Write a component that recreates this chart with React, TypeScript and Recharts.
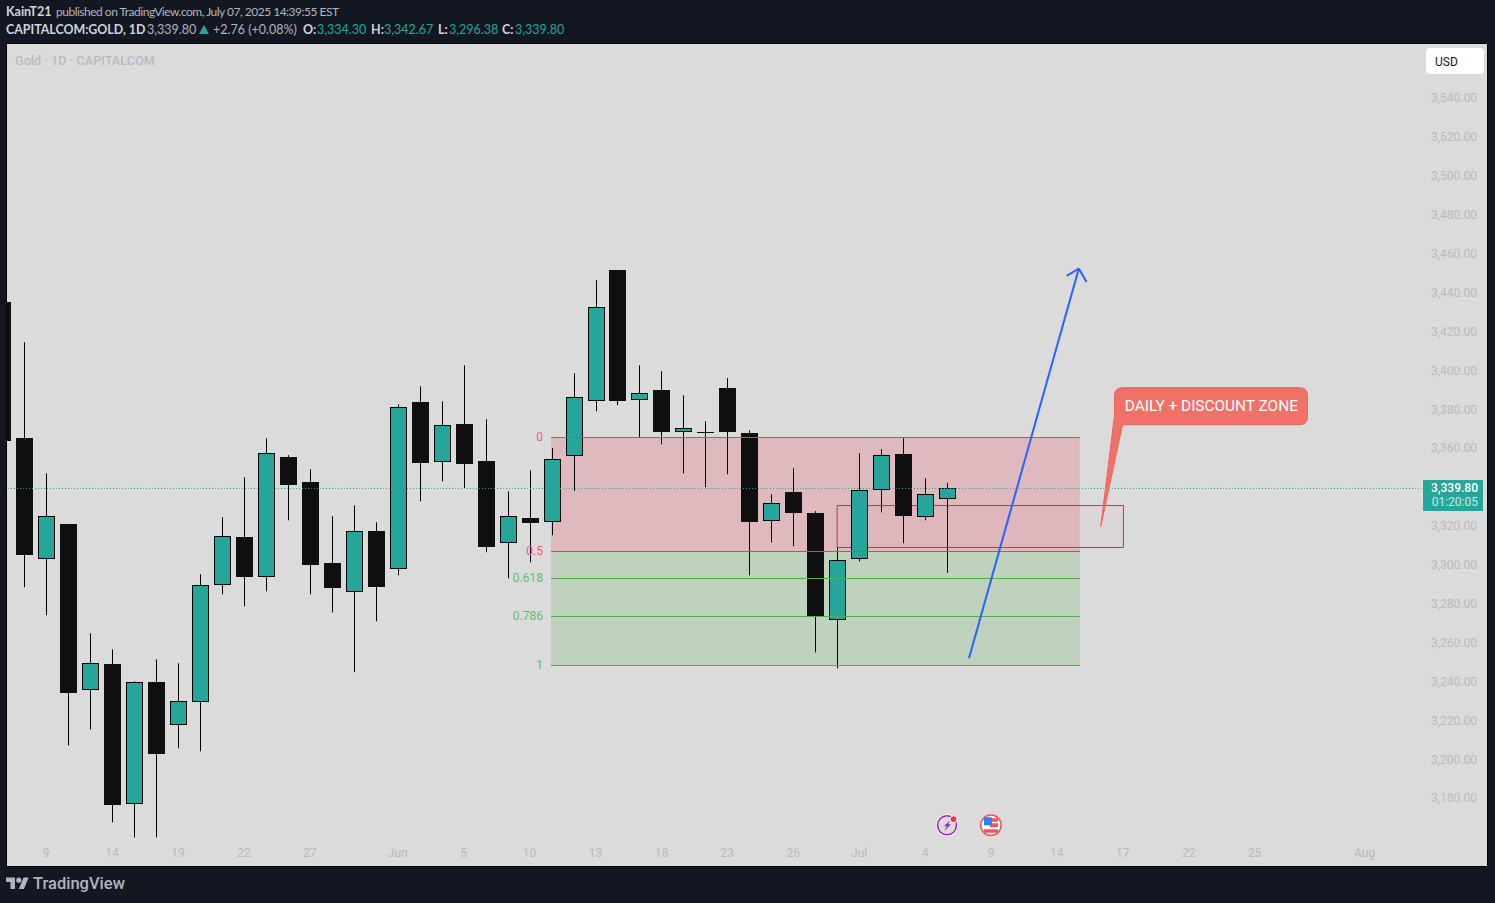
import {
  Bar,
  ComposedChart,
  ReferenceArea,
  ReferenceDot,
  ReferenceLine,
  XAxis,
  YAxis,
} from 'recharts';

const opens = [3435.5, 3365.6, 3303.5, 3321.4, 3236.2, 3249.4, 3177.5, 3240.1, 3218.2, 3230.0, 3289.9, 3314.7, 3294.3, 3355.8, 3343.0, 3301.3, 3286.6, 3317.8, 3298.4, 3384.1, 3353.4, 3372.8, 3353.8, 3311.8, 3324.5, 3322.6, 3356.5, 3384.8, 3452.0, 3385.3, 3390.3, 3368.8, 3368.7, 3391.3, 3368.2, 3323.1, 3337.8, 3327.0, 3272.2, 3303.5, 3339.0, 3357.4, 3325.1, 3334.3];
const highs = [3435.5, 3415.0, 3347.6, 3321.4, 3265.3, 3257.1, 3240.6, 3251.9, 3249.9, 3295.7, 3325.0, 3345.5, 3365.6, 3356.9, 3349.7, 3325.5, 3331.1, 3322.4, 3383.1, 3392.3, 3384.6, 3403.1, 3375.4, 3338.3, 3349.1, 3360.5, 3399.0, 3446.9, 3452.0, 3403.1, 3400.1, 3387.7, 3374.3, 3396.5, 3369.7, 3336.8, 3350.2, 3328.1, 3309.5, 3357.9, 3360.0, 3365.6, 3345.0, 3342.67];
const lows = [3364.1, 3289.0, 3274.6, 3207.7, 3215.9, 3168.1, 3160.0, 3160.0, 3206.2, 3204.6, 3285.4, 3279.2, 3286.9, 3323.4, 3285.4, 3276.1, 3245.3, 3271.5, 3295.1, 3333.2, 3343.5, 3339.9, 3307.0, 3293.6, 3301.8, 3315.7, 3338.5, 3379.5, 3382.6, 3366.1, 3362.5, 3347.6, 3340.4, 3347.1, 3295.1, 3312.1, 3310.1, 3255.5, 3247.3, 3302.3, 3327.5, 3311.6, 3323.4, 3296.38];
const closes = [3364.1, 3305.4, 3325.5, 3234.6, 3249.7, 3176.9, 3240.0, 3203.2, 3230.2, 3289.9, 3315.0, 3294.3, 3357.7, 3341.4, 3300.3, 3288.5, 3317.6, 3289.1, 3381.5, 3352.9, 3372.1, 3352.2, 3309.7, 3325.3, 3321.9, 3354.7, 3386.5, 3432.8, 3384.6, 3388.6, 3368.7, 3370.6, 3368.2, 3368.7, 3322.4, 3332.0, 3327.0, 3273.5, 3302.7, 3338.7, 3356.7, 3325.5, 3336.6, 3339.8];

const priceTicks = [3180, 3200, 3220, 3240, 3260, 3280, 3300, 3320, 3340, 3360, 3380, 3400, 3420, 3440, 3460, 3480, 3500, 3520, 3540];
const shownPriceTicks = priceTicks.filter((t) => t !== 3340);
const timePositions = [2, 5, 8, 11, 14, 18, 21, 24, 27, 30, 33, 36, 39, 42, 45, 48, 51, 54, 57, 62];
const timeLabels = ['9', '14', '19', '22', '27', 'Jun', '5', '10', '13', '18', '23', '26', 'Jul', '4', '9', '14', '17', '22', '25', 'Aug'];

const fibLevels = [0, 0.5, 0.618, 0.786, 1];
const fibPrices = [3366.0, 3307.38, 3293.49, 3273.96, 3248.75];
const fibStart = 24.975;
const fibEnd = 49.05;

const data = opens.map((open, i) => ({
  idx: i,
  open,
  high: highs[i],
  low: lows[i],
  close: closes[i],
}));

const lastClose = closes[closes.length - 1];

const UI_FONT = 'Roboto, "Noto Sans", sans-serif';
const HEADER_FONT = 'Lato, Roboto, sans-serif';
const AXIS_TEXT = '#b8bac4';
const TEAL = '#26a69a';
const DARK = '#0f0f0f';
const BLUE = '#2962ff';
const FIB_RED = '#e04452';
const FIB_GREEN = '#4caf50';

function Candle(props: any) {
  const { x, y, width, height, payload } = props;
  const { open, high, low, close } = payload;
  const perUnit = height / (high - low);
  const toY = (p: number) => y + (high - p) * perUnit - 0.3;
  const cx = Math.round(x + width / 2 + 0.5) + 0.5;
  const up = close >= open;
  const top = Math.round(toY(Math.max(open, close)));
  const bottom = Math.round(toY(Math.min(open, close)));
  if (up) {
    return (
      <g>
        <line x1={cx} x2={cx} y1={y} y2={y + height} stroke="#000" strokeWidth={1} />
        <rect
          x={cx - 8}
          y={top + 0.5}
          width={16}
          height={Math.max(bottom - top - 1, 1)}
          fill={TEAL}
          stroke="#000"
          strokeWidth={1}
        />
      </g>
    );
  }
  return (
    <g>
      <line x1={cx} x2={cx} y1={y} y2={y + height} stroke="#000" strokeWidth={1} />
      <rect x={cx - 8.5} y={top} width={17} height={Math.max(bottom - top, 1)} fill={DARK} />
    </g>
  );
}

function FibLabel(props: any) {
  const { cx, cy, text, color } = props;
  return (
    <text x={cx - 8} y={cy + 3.5} textAnchor="end" fontSize={12} fontFamily={UI_FONT} fill={color}>
      {text}
    </text>
  );
}

function Callout(props: any) {
  const { cx, cy } = props;
  const left = cx + 13.7;
  const right = cx + 206.7;
  const top = cy - 138.7;
  const bottom = cy - 101.7;
  const r = 8;
  const d = [
    `M${cx} ${cy}`,
    `L${left} ${cy - 111}`,
    `L${left} ${top + r}`,
    `Q${left} ${top} ${left + r} ${top}`,
    `L${right - r} ${top}`,
    `Q${right} ${top} ${right} ${top + r}`,
    `L${right} ${bottom - r}`,
    `Q${right} ${bottom} ${right - r} ${bottom}`,
    `L${left + 8} ${bottom}`,
    'Z',
  ].join(' ');
  return (
    <g>
      <path d={d} fill="#ef7168" stroke="#f26355" strokeWidth={1} />
      <text x={cx + 24} y={cy - 115} fontSize={15.4} fontFamily={UI_FONT} fill="#fff">
        DAILY + DISCOUNT ZONE
      </text>
    </g>
  );
}

function PriceTag(props: any) {
  const { viewBox } = props;
  const left = viewBox.x + viewBox.width + 1;
  const y = Math.round(viewBox.y);
  return (
    <g fontFamily={UI_FONT} fontSize={12} textAnchor="end">
      <rect x={left} y={y - 8} width={60} height={31} fill={TEAL} />
      <text x={left + 55} y={y + 4} fill="#fff" fontWeight={500}>
        3,339.80
      </text>
      <text x={left + 55} y={y + 18} fill="#c8e9e5">
        01:20:05
      </text>
    </g>
  );
}

function BoltIcon(props: any) {
  const { cx, cy } = props;
  return (
    <g>
      <circle cx={cx} cy={cy} r={11} fill="#fff" />
      <circle cx={cx} cy={cy} r={9.5} fill="#dbdbdb" stroke="#9c27b0" strokeWidth={1.6} />
      <path
        d={`M${cx + 3} ${cy - 5} L${cx - 3} ${cy + 1} L${cx} ${cy + 1} L${cx - 3} ${cy + 6} L${cx + 4} ${cy - 1} L${cx + 1} ${cy - 1} Z`}
        fill="#9c27b0"
      />
      <circle cx={cx + 6.5} cy={cy - 6} r={3.5} fill="#f23645" stroke="#fff" strokeWidth={1} />
    </g>
  );
}

function FlagIcon(props: any) {
  const { cx, cy } = props;
  return (
    <g>
      <circle cx={cx} cy={cy} r={10.2} fill="#fff" stroke="#f0545f" strokeWidth={1.6} />
      <rect x={cx - 7} y={cy - 7} width={14} height={3.5} fill="#f0545f" />
      <rect x={cx - 1} y={cy - 2} width={8} height={4} fill="#f0545f" />
      <rect x={cx - 7} y={cy + 4} width={14} height={3.5} fill="#f0545f" />
      <rect x={cx - 7} y={cy - 8} width={8} height={8} fill="#2f80ed" />
    </g>
  );
}

function HeaderSpan({ left, top, color, weight, size, spacing, children }: any) {
  return (
    <span
      style={{
        position: 'absolute',
        left,
        top,
        color,
        fontFamily: HEADER_FONT,
        fontSize: size ?? 12.5,
        fontWeight: weight ?? 400,
        letterSpacing: spacing ?? 0,
        whiteSpace: 'nowrap',
        lineHeight: '16px',
      }}
    >
      {children}
    </span>
  );
}

export default function App() {
  return (
    <div
      style={{
        position: 'absolute',
        left: 0,
        top: 0,
        width: 1495,
        height: 903,
        background: '#131722',
        overflow: 'hidden',
        fontFamily: UI_FONT,
        fontSize: 12,
      }}
    >
      <HeaderSpan left={6} top={4} color="#d1d4dc" weight={700}>KainT21</HeaderSpan>
      <HeaderSpan left={56} top={4} color="#b2b5be" size={12} spacing={-0.5}>published on TradingView.com, July 07, 2025 14:39:55 EST</HeaderSpan>
      <HeaderSpan left={6} top={22} color="#d1d4dc" weight={700} size={12.4}>CAPITALCOM:GOLD, 1D</HeaderSpan>
      <HeaderSpan left={147} top={22} color="#b2b5be">3,339.80</HeaderSpan>
      <svg width={10} height={9} style={{ position: 'absolute', left: 199, top: 25 }}>
        <polygon points="5,0 10,9 0,9" fill={TEAL} />
      </svg>
      <HeaderSpan left={213} top={22} color="#b2b5be">+2.76 (+0.08%)</HeaderSpan>
      <HeaderSpan left={303} top={22} color="#d1d4dc" weight={700}>O:</HeaderSpan>
      <HeaderSpan left={317} top={22} color={TEAL}>3,334.30</HeaderSpan>
      <HeaderSpan left={371} top={22} color="#d1d4dc" weight={700}>H:</HeaderSpan>
      <HeaderSpan left={384} top={22} color={TEAL}>3,342.67</HeaderSpan>
      <HeaderSpan left={438} top={22} color="#d1d4dc" weight={700}>L:</HeaderSpan>
      <HeaderSpan left={449} top={22} color={TEAL}>3,296.38</HeaderSpan>
      <HeaderSpan left={502} top={22} color="#d1d4dc" weight={700}>C:</HeaderSpan>
      <HeaderSpan left={515} top={22} color={TEAL}>3,339.80</HeaderSpan>

      <div
        style={{
          position: 'absolute',
          left: 6,
          top: 43,
          width: 1482,
          height: 824,
          background: '#dbdbdb',
          border: '1px solid #000',
          boxSizing: 'border-box',
        }}
      />
      <ComposedChart
        width={1495}
        height={903}
        data={data}
        margin={{ top: 44, right: 7, bottom: 37, left: 7 }}
        style={{ position: 'absolute', left: 0, top: 0 }}
      >
        <XAxis
          dataKey="idx"
          type="number"
          domain={[0.214, 64.62]}
          allowDataOverflow
          ticks={timePositions}
          interval={0}
          tickFormatter={(v: number) => timeLabels[timePositions.indexOf(v)]}
          height={28}
          tickLine={false}
          tickSize={0}
          tickMargin={10}
          axisLine={{ stroke: '#dfdfdf' }}
          tick={{ fontSize: 12, fill: AXIS_TEXT, fontFamily: UI_FONT }}
        />
        <YAxis
          orientation="right"
          type="number"
          domain={[3160.05, 3568.35]}
          allowDataOverflow
          ticks={shownPriceTicks}
          interval={0}
          tickFormatter={(v: number) => v.toLocaleString('en-US', { minimumFractionDigits: 2 })}
          width={66}
          tickLine={false}
          tickSize={0}
          tickMargin={9}
          axisLine={{ stroke: '#dfdfdf' }}
          tick={{ fontSize: 12, fill: AXIS_TEXT, fontFamily: UI_FONT, dy: -1 }}
        />
        <ReferenceArea x1={fibStart} x2={fibEnd} y1={fibPrices[1]} y2={fibPrices[0]} fill="#deb9bd" fillOpacity={1} stroke="none" />
        <ReferenceArea x1={fibStart} x2={fibEnd} y1={fibPrices[4]} y2={fibPrices[1]} fill="#bfd2be" fillOpacity={1} stroke="none" />
        {fibPrices.map((p, i) => (
          <ReferenceLine
            key={p}
            segment={[
              { x: fibStart, y: p },
              { x: fibEnd, y: p },
            ]}
            stroke={i < 2 ? FIB_RED : FIB_GREEN}
            strokeWidth={1}
          />
        ))}
        <ReferenceArea x1={38} x2={51.03} y1={3309.45} y2={3331.0} fill="#e91e63" fillOpacity={0.02} stroke="#e0245e" strokeWidth={1} />
        <Bar dataKey={(d: any) => [d.low, d.high]} barSize={17} shape={<Candle />} isAnimationActive={false} />
        <ReferenceLine y={lastClose} stroke={TEAL} strokeDasharray="1 2" strokeWidth={1} label={<PriceTag />} />
        {fibLevels.map((lvl, i) => (
          <ReferenceDot
            key={lvl}
            x={fibStart}
            y={fibPrices[i]}
            shape={<FibLabel text={String(lvl)} color={i < 2 ? '#f0616f' : '#66bb6a'} />}
          />
        ))}
        <ReferenceLine segment={[{ x: 44.0, y: 3252.5 }, { x: 49.0, y: 3452.9 }]} stroke={BLUE} strokeWidth={2} />
        <ReferenceLine segment={[{ x: 48.45, y: 3449.1 }, { x: 49.0, y: 3452.9 }]} stroke={BLUE} strokeWidth={2} />
        <ReferenceLine segment={[{ x: 49.35, y: 3446.0 }, { x: 49.0, y: 3452.9 }]} stroke={BLUE} strokeWidth={2} />
        <ReferenceDot x={50} y={3320.3} shape={<Callout />} />
        <ReferenceDot x={43} y={3166.6} shape={<BoltIcon />} />
        <ReferenceDot x={45} y={3166.6} shape={<FlagIcon />} />
      </ComposedChart>

      <div style={{ position: 'absolute', left: 15, top: 53, color: '#b9bbc5', fontSize: 12.7, fontWeight: 500, whiteSpace: 'nowrap' }}>
        Gold · 1D · CAPITALCOM
      </div>
      <div
        style={{
          position: 'absolute',
          left: 1426,
          top: 48,
          width: 58,
          height: 26,
          background: '#fff',
          borderRadius: 4,
          color: '#131722',
          lineHeight: '28px',
          paddingLeft: 9,
          boxSizing: 'border-box',
        }}
      >
        USD
      </div>
      <svg width={23} height={18} viewBox="0 0 36 28" style={{ position: 'absolute', left: 6, top: 875 }}>
        <path d="M14 22H7V11H0V4h14v18zM28 22h-8l7.5-18h8L28 22z" fill="#b2b5be" />
        <circle cx={20} cy={8} r={4} fill="#b2b5be" />
      </svg>
      <div style={{ position: 'absolute', left: 33, top: 874, color: '#b2b5be', fontSize: 16.5, fontWeight: 500, lineHeight: '20px' }}>
        TradingView
      </div>
    </div>
  );
}
